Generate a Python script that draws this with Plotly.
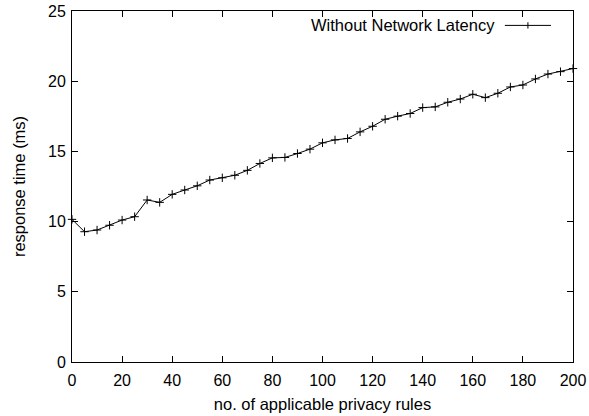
import plotly.graph_objects as go

rules = list(range(0, 201, 5))
response_ms = [10.16, 9.28, 9.40, 9.74, 10.11, 10.35, 11.54, 11.37, 11.94, 12.25,
               12.55, 12.96, 13.12, 13.30, 13.65, 14.14, 14.54, 14.57, 14.85, 15.16,
               15.61, 15.82, 15.92, 16.39, 16.79, 17.29, 17.51, 17.70, 18.12, 18.17,
               18.50, 18.73, 19.07, 18.83, 19.14, 19.59, 19.73, 20.16, 20.51, 20.68,
               20.90]
series_name = "Without Network Latency"
x_ticks = list(range(0, 201, 20))
y_ticks = list(range(0, 26, 5))

FONT = "Liberation Sans, Arial, Helvetica, sans-serif"
FS = 16

fig = go.Figure()
fig.add_trace(go.Scatter(
    x=rules, y=response_ms, mode="lines+markers", name=series_name,
    line=dict(color="black", width=1),
    marker=dict(symbol="cross-thin", size=6, line=dict(color="black", width=1)),
    showlegend=False, cliponaxis=False,
))

# gnuplot-style key: text followed by line sample
fig.add_annotation(x=0.849, y=0.959, xref="paper", yref="paper", text=series_name,
                   showarrow=False, xanchor="right", yanchor="middle",
                   font=dict(family=FONT, size=16.5, color="black"))
fig.add_shape(type="line", xref="paper", yref="paper", x0=0.864, x1=0.956,
              y0=0.959, y1=0.959, line=dict(color="black", width=1))
fig.add_shape(type="line", xref="paper", yref="paper", x0=0.91, x1=0.91,
              y0=0.95, y1=0.968, line=dict(color="black", width=1))

axis_common = dict(showgrid=False, zeroline=False, showline=True, linecolor="black",
                   linewidth=1, mirror="ticks", ticks="inside", ticklen=6,
                   tickcolor="black", tickwidth=1, automargin=False,
                   tickfont=dict(family=FONT, size=FS, color="black"))

fig.update_xaxes(range=[0, 200], tickvals=x_ticks, ticklabelstandoff=4,
                 title=dict(text="no. of applicable privacy rules",
                            font=dict(family=FONT, size=16.5, color="black"), standoff=10),
                 **axis_common)
fig.update_yaxes(range=[0, 25], tickvals=y_ticks, ticklabelstandoff=2,
                 title=dict(text="response time (ms)",
                            font=dict(family=FONT, size=16.5, color="black"), standoff=18),
                 **axis_common)

fig.update_layout(width=589, height=416, paper_bgcolor="white", plot_bgcolor="white",
                  margin=dict(l=72, r=16, t=11, b=54, autoexpand=False),
                  font=dict(family=FONT, size=FS, color="black"))

fig.write_html("out.html", config={"displayModeBar": False},
               post_script="document.body.style.margin='0';")
